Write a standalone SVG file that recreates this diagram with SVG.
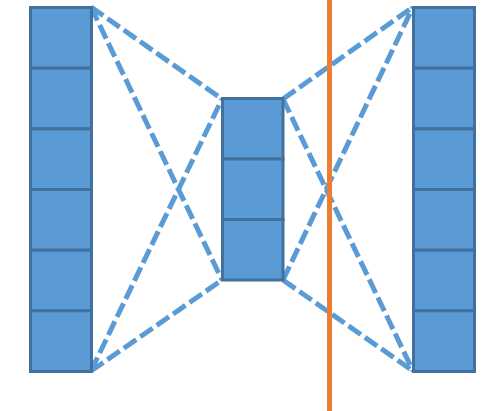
<svg xmlns="http://www.w3.org/2000/svg" width="486" height="411" viewBox="0 0 486 411">
<style>
.cell{fill:#5B9BD5;stroke:#41719C;stroke-width:3}
.dash{stroke:#5B9BD5;stroke-width:5;stroke-dasharray:15 5;fill:none}
.cut{stroke:#ED7D31;stroke-width:5}
</style>
<rect width="486" height="411" fill="#fff"/>
<g id="connectors">
<line class="dash" x1="91" y1="7" x2="222" y2="99"/>
<line class="dash" x1="91" y1="7" x2="222" y2="280"/>
<line class="dash" x1="91" y1="371" x2="222" y2="99"/>
<line class="dash" x1="91" y1="371" x2="222" y2="280"/>
<line class="dash" x1="283" y1="99" x2="413" y2="7"/>
<line class="dash" x1="283" y1="99" x2="413" y2="371"/>
<line class="dash" x1="283" y1="280" x2="413" y2="7"/>
<line class="dash" x1="283" y1="280" x2="413" y2="371"/>
</g>
<g id="left-column">
<rect class="cell" x="30.5" y="7.5" width="61" height="60.7"/>
<rect class="cell" x="30.5" y="68.2" width="61" height="60.7"/>
<rect class="cell" x="30.5" y="128.9" width="61" height="60.6"/>
<rect class="cell" x="30.5" y="189.5" width="61" height="60.7"/>
<rect class="cell" x="30.5" y="250.2" width="61" height="60.6"/>
<rect class="cell" x="30.5" y="310.8" width="61" height="60.7"/>
</g>
<g id="middle-column">
<rect class="cell" x="222.5" y="98.5" width="60.5" height="60.5"/>
<rect class="cell" x="222.5" y="159" width="60.5" height="60.5"/>
<rect class="cell" x="222.5" y="219.5" width="60.5" height="60.5"/>
</g>
<g id="right-column">
<rect class="cell" x="413.5" y="7.5" width="61" height="60.7"/>
<rect class="cell" x="413.5" y="68.2" width="61" height="60.7"/>
<rect class="cell" x="413.5" y="128.9" width="61" height="60.6"/>
<rect class="cell" x="413.5" y="189.5" width="61" height="60.7"/>
<rect class="cell" x="413.5" y="250.2" width="61" height="60.6"/>
<rect class="cell" x="413.5" y="310.8" width="61" height="60.7"/>
</g>
<g id="cut-line">
<line class="cut" x1="329.5" y1="0" x2="329.5" y2="411"/>
</g>
</svg>
